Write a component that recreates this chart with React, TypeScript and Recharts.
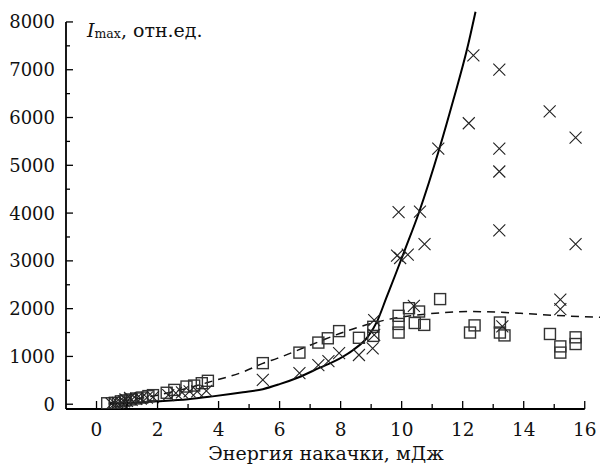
import React from 'react';
import { ComposedChart, XAxis, YAxis, Scatter, Line, ReferenceLine } from 'recharts';

// crosses (X marks)
const crossE = [
    12.35, 13.2, 14.85, 15.7, 12.2, 11.2, 13.2, 13.2, 13.2, 9.9, 10.6, 10.75, 15.7,
    9.85, 9.95, 10.2, 10.4, 15.2, 15.2, 13.3, 9.1, 9.1, 9.05, 8.6, 7.95, 7.6, 7.27,
    6.65, 5.45, 3.6, 3.3, 3.05, 2.8, 2.6, 2.35, 1.85, 1.65, 1.45, 1.3, 1.15, 1.0,
    0.9, 0.8, 0.7, 0.6, 0.5, 1.1, 0.95,
];
const crossI = [
    7300, 7000, 6130, 5580, 5880, 5350, 5350, 4870, 3640, 4020, 4030, 3350, 3350,
    3110, 3060, 3130, 2060, 2190, 1990, 1630, 1760, 1450, 1170, 1030, 1070, 900, 820,
    650, 510, 280, 270, 270, 250, 230, 190, 150, 140, 120, 110, 90, 70,
    60, 40, 30, 20, 10, 130, 100,
];

// squares
const squareE = [
    0.35, 0.6, 0.8, 0.95, 1.1, 1.3, 1.5, 1.7, 1.85, 2.3, 2.55, 2.95, 3.2, 3.45, 3.65,
    5.45, 6.65, 7.27, 7.58, 7.95, 8.6, 9.07, 9.07, 9.9, 9.9, 9.9, 10.24, 10.57, 10.43,
    10.74, 11.26, 12.24, 12.39, 13.22, 13.22, 13.37, 14.86, 15.2, 15.2, 15.7, 15.7,
];
const squareI = [
    20, 30, 60, 80, 100, 120, 140, 170, 190, 240, 300, 370, 390, 440, 490,
    860, 1080, 1290, 1380, 1530, 1390, 1620, 1430, 1850, 1680, 1500, 2010, 1940, 1700,
    1660, 2200, 1500, 1650, 1710, 1500, 1440, 1470, 1210, 1080, 1400, 1260,
];

// solid fit
const solidE = [0.4, 1, 2, 3, 3.74, 4.8, 5.45, 6, 6.63, 7.3, 7.95, 8.4, 8.9, 9.2, 9.5, 9.8, 10.1, 10.57, 11.24, 11.7, 12.15, 12.42];
const solidI = [5, 25, 60, 105, 159, 250, 315, 420, 565, 760, 950, 1130, 1420, 1740, 2230, 2720, 3220, 4017, 5355, 6380, 7448, 8213];

// dashed fit
const dashE = [0.4, 1, 2, 3, 3.74, 4.83, 5.45, 5.92, 7.02, 8.1, 9.0, 9.75, 10.84, 12.26, 13.9, 15.0, 16.5];
const dashI = [30, 80, 190, 340, 473, 682, 855, 960, 1240, 1510, 1690, 1799, 1889, 1940, 1903, 1860, 1820];

const xTicks = [0, 1, 2, 3, 4, 5, 6, 7, 8, 9, 10, 11, 12, 13, 14, 15, 16];
const yTicks = [0, 500, 1000, 1500, 2000, 2500, 3000, 3500, 4000, 4500, 5000, 5500, 6000, 6500, 7000, 7500, 8000];

const crosses = crossE.map((x, i) => ({ x, y: crossI[i] }));
const squares = squareE.map((x, i) => ({ x, y: squareI[i] }));
const solid = solidE.map((x, i) => ({ x, y: solidI[i] }));
const dashed = dashE.map((x, i) => ({ x, y: dashI[i] }));

const FONT = '"DejaVu Serif", serif';

const XTick = ({ x, y, payload }: any) => {
    const major = payload.value % 2 === 0;
    return (
        <g>
            <line x1={x} x2={x} y1={y} y2={y - (major ? 8 : 5)} stroke="#000" strokeWidth={1.3} />
            {major && (
                <text x={x} y={y + 27} textAnchor="middle" fontFamily={FONT} fontSize={18.5} fill="#111">
                    {payload.value}
                </text>
            )}
        </g>
    );
};

const YTick = ({ x, y, payload }: any) => {
    const major = payload.value % 1000 === 0;
    return (
        <g>
            <line x1={x} x2={x + (major ? 7 : 4)} y1={y} y2={y} stroke="#000" strokeWidth={1.3} />
            {major && (
                <text x={x - 11} y={y + 6.5} textAnchor="end" fontFamily={FONT} fontSize={18} fill="#111">
                    {payload.value}
                </text>
            )}
        </g>
    );
};

const Cross = ({ cx, cy }: any) => (
    <path
        d={`M${cx - 6},${cy - 6}L${cx + 6},${cy + 6}M${cx - 6},${cy + 6}L${cx + 6},${cy - 6}`}
        stroke="#222"
        strokeWidth={1.1}
        fill="none"
    />
);

const Square = ({ cx, cy }: any) => (
    <rect x={cx - 5.5} y={cy - 5.5} width={11} height={11} stroke="#333" strokeWidth={1.4} fill="none" />
);

export default function App() {
    return (
        <div style={{ position: 'absolute', left: 0, top: 0, width: 602, height: 466, background: '#fff' }}>
            <ComposedChart width={602} height={466} margin={{ top: 10, right: 2, bottom: 0, left: 0 }}>
                <XAxis
                    type="number"
                    dataKey="x"
                    domain={[-1, 16.5]}
                    ticks={xTicks}
                    allowDataOverflow
                    axisLine={false}
                    tickLine={false}
                    tickSize={0}
                    tickMargin={0}
                    interval={0}
                    height={57}
                    tick={<XTick />}
                    label={{
                        value: 'Энергия накачки, мДж',
                        position: 'insideBottom',
                        offset: 6,
                        dx: -7,
                        fontFamily: FONT,
                        fontSize: 19,
                        fill: '#111',
                    }}
                />
                <YAxis
                    type="number"
                    dataKey="y"
                    domain={[-100, 8250]}
                    ticks={yTicks}
                    allowDataOverflow
                    axisLine={false}
                    tickLine={false}
                    tickSize={0}
                    tickMargin={0}
                    interval={0}
                    width={66}
                    tick={<YTick />}
                    label={{
                        content: () => (
                            <text x={87} y={37} fontFamily={FONT} fontSize={19} fill="#111">
                                <tspan fontStyle="italic">I</tspan>
                                <tspan fontSize={12.5} dy={1}>max</tspan>
                                <tspan dy={-1}>,  отн.ед.</tspan>
                            </text>
                        ),
                    }}
                />
                <ReferenceLine segment={[{ x: -1, y: -100 }, { x: 16, y: -100 }]} stroke="#000" strokeWidth={1.8} />
                <ReferenceLine segment={[{ x: -1, y: -100 }, { x: -1, y: 8000 }]} stroke="#000" strokeWidth={1.8} />
                <Line
                    data={dashed}
                    dataKey="y"
                    type="monotone"
                    stroke="#111"
                    strokeWidth={1.5}
                    strokeDasharray="8 6"
                    dot={false}
                    activeDot={false}
                    isAnimationActive={false}
                />
                <Line
                    data={solid}
                    dataKey="y"
                    type="monotone"
                    stroke="#000"
                    strokeWidth={2}
                    dot={false}
                    activeDot={false}
                    isAnimationActive={false}
                />
                <Scatter data={squares} shape={<Square />} isAnimationActive={false} />
                <Scatter data={crosses} shape={<Cross />} isAnimationActive={false} />
            </ComposedChart>
        </div>
    );
}
